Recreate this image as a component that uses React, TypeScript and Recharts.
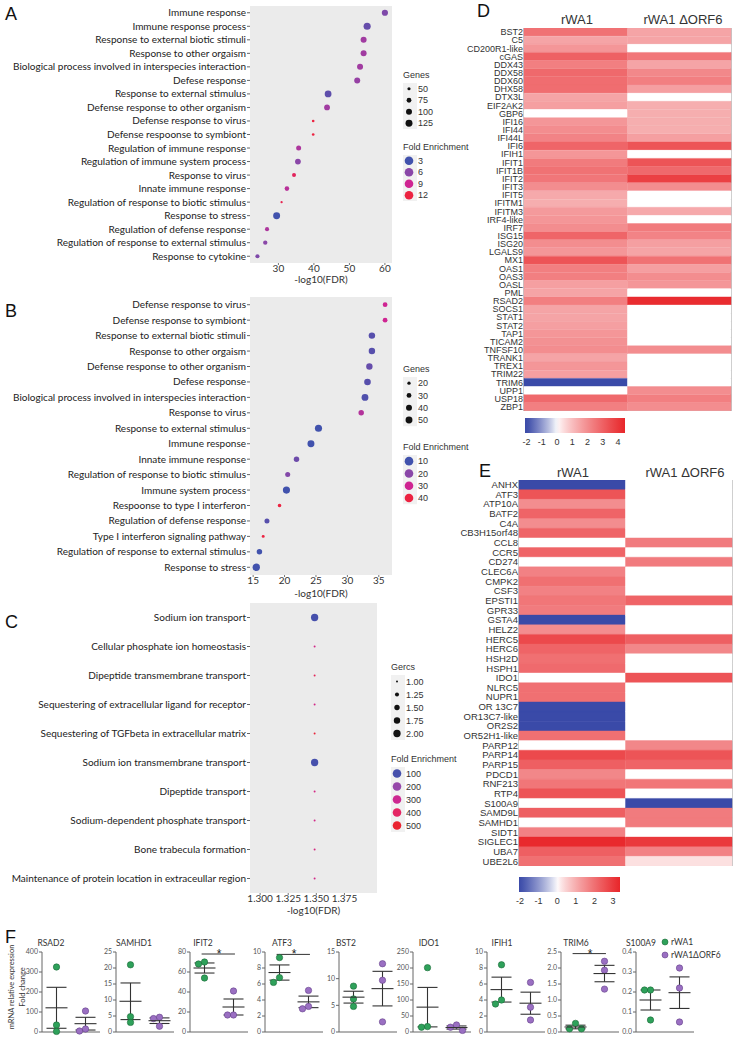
import React from 'react'
import {
  ScatterChart, Scatter, XAxis, YAxis, ZAxis, CartesianGrid, Cell,
  BarChart, Bar, ReferenceArea, ReferenceLine, ErrorBar, Label,
} from 'recharts'

// ---------- A: GO terms, rWA1 ----------
const termsA = [
  'Immune response', 'Immune response process', 'Response to external biotic stimuli',
  'Response to other orgaism', 'Biological process involved in interspecies interaction',
  'Defese response', 'Response to external stimulus', 'Defense response to other organism',
  'Defense response to virus', 'Defense respoonse to symbiont', 'Regulation of immune response',
  'Regulation of immune system process', 'Response to virus', 'Innate immune response',
  'Regulation of response to biotic stimulus', 'Response to stress', 'Regulation of defense response',
  'Regulation of response to external stimulus', 'Response to cytokine',
]
const fdrA = [60, 55, 54, 54, 53, 52.2, 44, 43.7, 39.8, 39.8, 35.7, 35.5, 34.4, 32.4, 30.9, 29.5, 26.8, 26.3, 24.1]
const genesA = [105, 130, 100, 100, 100, 100, 120, 95, 42, 42, 78, 95, 60, 70, 38, 125, 62, 65, 62]
const foldA = [5.5, 4.5, 7, 7, 7, 6.5, 4.2, 7, 12, 12, 7.5, 6, 11, 8, 11.5, 3, 7.5, 6, 5.5]
const genesKeyA = [50, 75, 100, 125]
const foldKeyA = [3, 6, 9, 12]

// ---------- B: GO terms, rWA1 ΔORF6 ----------
const termsB = [
  'Defense response to virus', 'Defense response to symbiont', 'Response to external biotic stimuli',
  'Response to other orgaism', 'Defense response to other organism', 'Defese response',
  'Biological process involved in interspecies interaction', 'Response to virus',
  'Response to external stimulus', 'Immune response', 'Innate immune response',
  'Regulation of response to biotic stimulus', 'Immune system process', 'Respoonse to type I interferon',
  'Regulation of defense response', 'Type I interferon signaling pathway',
  'Regulation of response to external stimulus', 'Response to stress',
]
const fdrB = [36, 36, 33.9, 33.9, 33.5, 33.2, 32.8, 32.2, 25.4, 24.2, 21.9, 20.5, 20.3, 19.2, 17.2, 16.6, 16, 15.5]
const genesB = [30, 30, 46, 46, 45, 48, 50, 36, 54, 52, 36, 32, 54, 22, 32, 18, 36, 56]
const foldB = [30, 30, 13, 13, 15, 13, 12, 26, 9, 9, 16, 19, 7, 40, 13, 40, 9, 6]
const genesKeyB = [20, 30, 40, 50]
const foldKeyB = [10, 20, 30, 40]

// ---------- C: GO terms, down ----------
const termsC = [
  'Sodium ion transport', 'Cellular phosphate ion homeostasis', 'Dipeptide transmembrane transport',
  'Sequestering of extracellular ligand for receptor', 'Sequestering of TGFbeta in extracellular matrix',
  'Sodium ion transmembrane transport', 'Dipeptide transport', 'Sodium-dependent phosphate transport',
  'Bone trabecula formation', 'Maintenance of protein location in extraceullar region',
]
const fdrC = [1.3485, 1.3485, 1.3485, 1.3485, 1.3485, 1.3485, 1.3485, 1.3485, 1.3485, 1.3485]
const genesC = [2, 1, 1, 1, 1, 2, 1, 1, 1, 1]
const foldC = [100, 320, 420, 320, 480, 100, 330, 320, 340, 320]
const genesKeyC = [1, 1.25, 1.5, 1.75, 2]
const foldKeyC = [100, 200, 300, 400, 500]

// ---------- D: ISG heatmap ----------
const genesD = [
  'BST2', 'C5', 'CD200R1-like', 'cGAS', 'DDX43', 'DDX58', 'DDX60', 'DHX58', 'DTX3L', 'EIF2AK2',
  'GBP6', 'IFI16', 'IFI44', 'IFI44L', 'IFI6', 'IFIH1', 'IFIT1', 'IFIT1B', 'IFIT2', 'IFIT3',
  'IFIT5', 'IFITM1', 'IFITM3', 'IRF4-like', 'IRF7', 'ISG15', 'ISG20', 'LGALS9', 'MX1', 'OAS1',
  'OAS3', 'OASL', 'PML', 'RSAD2', 'SOCS1', 'STAT1', 'STAT2', 'TAP1', 'TICAM2', 'TNFSF10',
  'TRANK1', 'TREX1', 'TRIM22', 'TRIM6', 'UPP1', 'USP18', 'ZBP1',
]
const rWA1D = [2.6, 1.5, 1.8, 3.0, 2.3, 2.8, 2.7, 2.7, 1.5, 1.6, 0, 1.8, 2.0, 2.2, 2.9, 1.8, 2.4, 2.6, 2.5, 2.0,
  1.4, 1.3, 1.7, 1.8, 2.0, 2.9, 2.0, 1.8, 3.3, 2.3, 2.3, 1.6, 1.5, 2.3, 1.5, 1.5, 1.6, 1.8, 1.9, 2.0,
  1.5, 1.8, 1.6, -2, 0, 2.8, 2.3]
const dORF6D = [1.5, 1.5, 0, 2.5, 1.5, 2.1, 2.3, 1.6, 0, 1.3, 1.3, 1.3, 1.3, 1.6, 3.3, 0, 3.3, 2.8, 3.8, 2.0,
  0, 0, 1.4, 0, 2.4, 2.2, 1.6, 1.5, 2.6, 1.6, 2.0, 1.8, 0, 4.3, 0, 0, 0, 0, 0, 2.0,
  0, 0, 0, 0, 2.0, 2.3, 2.0]
const scaleTicksD = [-2, -1, 0, 1, 2, 3, 4]

// ---------- E: other DEG heatmap ----------
const genesE = [
  'ANHX', 'ATF3', 'ATP10A', 'BATF2', 'C4A', 'CB3H15orf48', 'CCL8', 'CCR5', 'CD274', 'CLEC6A',
  'CMPK2', 'CSF3', 'EPSTI1', 'GPR33', 'GSTA4', 'HELZ2', 'HERC5', 'HERC6', 'HSH2D', 'HSPH1',
  'IDO1', 'NLRC5', 'NUPR1', 'OR 13C7', 'OR13C7-like', 'OR2S2', 'OR52H1-like', 'PARP12', 'PARP14', 'PARP15',
  'PDCD1', 'RNF213', 'RTP4', 'S100A9', 'SAMD9L', 'SAMHD1', 'SIDT1', 'SIGLEC1', 'UBA7', 'UBE2L6',
]
const rWA1E = [-2, 2.5, 1.5, 2.2, 1.5, 2.2, 0, 2.2, 0, 1.7, 2.0, 1.7, 1.9, 1.8, -2, 1.5, 2.7, 2.2, 2.0, 2.1,
  0, 2.0, 2.0, -2, -2, -2, 2.0, 0, 2.7, 2.3, 1.6, 1.9, 2.5, 0, 2.3, 0, 1.7, 3.3, 2.3, 2.0]
const dORF6E = [0, 0, 0, 0, 0, 0, 1.8, 0, 1.8, 0, 0, 0, 2.2, 0, 0, 0, 2.3, 1.6, 0, 0,
  2.5, 0, 0, 0, 0, 0, 0, 1.6, 2.5, 2.2, 0, 1.9, 0, -2, 1.8, 1.8, 0, 3.0, 1.7, 0.3]
const scaleTicksE = [-2, -1, 0, 1, 2, 3]

// ---------- F: qPCR ----------
const qpcrGenes = ['RSAD2', 'SAMHD1', 'IFIT2', 'ATF3', 'BST2', 'IDO1', 'IFIH1', 'TRIM6', 'S100A9']
const rWA1Fold = [[325, 35, 3], [21, 4.8, 3], [70, 68, 54], [9.3, 6.8, 6.2], [8.6, 6.2, 4.8],
  [201, 17, 15], [8.4, 4.0, 3.5], [0.1, 0.27, 0.1], [0.21, 0.21, 0.06]]
const dORF6Fold = [[105, 15, 5], [4.6, 4.2, 1.8], [41, 17, 17], [5.2, 2.9, 3.2], [12.8, 9.7, 1.9],
  [22, 15, 5], [6.2, 3.1, 1.5], [2.21, 1.93, 1.34], [0.32, 0.22, 0.05]]
const yMaxF = [400, 25, 80, 10, 15, 250, 10, 2.5, 0.4]
const yStepF = [100, 5, 20, 2, 5, 50, 2, 0.5, 0.1]
const sigF: (number | null)[] = [null, null, 78, 9.7, null, null, null, 2.45, null]

// layout of the small qPCR panels (title centres)
const titleXF = [51, 134, 203, 282, 346, 429, 502, 576, 641]

const GREEN = '#2ea15a'
const PURPLE = '#9a6fc2'
const LABEL_FONT = 'Lato, "Open Sans", sans-serif'
const ARIAL = '"Liberation Sans", Arial, sans-serif'

// colour helpers
function mix(a: number[], b: number[], t: number) {
  const k = Math.max(0, Math.min(1, t))
  return `rgb(${a.map((v, i) => Math.round(v + (b[i] - v) * k)).join(',')})`
}
const stops4 = [[65, 82, 173], [138, 71, 168], [207, 37, 146], [236, 35, 65]]
const stops5 = [[70, 80, 172], [150, 72, 170], [205, 40, 145], [228, 38, 100], [234, 36, 48]]
function foldColor(v: number, levels: number[], stops: number[][]) {
  if (v <= levels[0]) return mix(stops[0], stops[0], 0)
  for (let i = 0; i < levels.length - 1; i++) {
    if (v <= levels[i + 1]) return mix(stops[i], stops[i + 1], (v - levels[i]) / (levels[i + 1] - levels[i]))
  }
  return mix(stops[stops.length - 1], stops[stops.length - 1], 0)
}
const WHITE = [255, 255, 255]
function heatColor(v: number, vmax: number) {
  if (v < 0) return mix(WHITE, [58, 74, 168], Math.pow(-v / 2, 0.8))
  return mix(WHITE, [232, 36, 40], Math.pow(v / vmax, 0.8))
}
function keyRadius(v: number, dom: number[], rng: number[]) {
  const area = rng[0] + ((v - dom[0]) / (dom[1] - dom[0])) * (rng[1] - rng[0])
  return Math.sqrt(area / Math.PI)
}

const TermTick = (p: any) => (
  <text x={p.x} y={p.y} dy="0.35em" textAnchor="end" fontSize={10} fontFamily={LABEL_FONT} fill="#222">
    {p.payload.value}
  </text>
)

type DotProps = {
  terms: string[]; fdr: number[]; genes: number[]; fold: number[]
  levels: number[]; stops: number[][]
  left: number; top: number; width: number; plotH: number; axisH: number
  xDomain: number[]; xTicks: number[]; zDomain: number[]; zRange: number[]
  fmt?: (v: number) => string
}

function DotPlot(p: DotProps) {
  const rows = p.terms.map((t, i) => ({ term: t, fdr: p.fdr[i], genes: p.genes[i], fold: p.fold[i] }))
  return (
    <div style={{ position: 'absolute', left: p.left, top: p.top }}>
      <ScatterChart width={p.width} height={p.plotH + p.axisH + 4} margin={{ top: 0, right: 0, bottom: 4, left: 0 }}>
        <CartesianGrid fill="#ebebeb" stroke="none" horizontal={false} vertical={false} />
        <XAxis
          type="number" dataKey="fdr" domain={p.xDomain} ticks={p.xTicks}
          axisLine={false} tickSize={2} tickMargin={0} tickLine={{ stroke: '#777' }}
          tick={{ fontSize: 10, fill: '#333', fontFamily: LABEL_FONT }} height={p.axisH}
          tickFormatter={p.fmt}
        >
          <Label value="-log10(FDR)" position="insideBottom" offset={0}
            style={{ fontSize: 10, fill: '#333', fontFamily: LABEL_FONT }} />
        </XAxis>
        <YAxis
          type="category" dataKey="term" reversed width={250} interval={0} axisLine={false}
          tickSize={3} tickMargin={1} tickLine={{ stroke: '#666' }} tick={<TermTick />}
          allowDuplicatedCategory={false}
        />
        <ZAxis type="number" dataKey="genes" domain={p.zDomain} range={p.zRange} />
        <Scatter data={rows} isAnimationActive={false}>
          {rows.map((r, i) => <Cell key={i} fill={foldColor(r.fold, p.levels, p.stops)} />)}
        </Scatter>
      </ScatterChart>
    </div>
  )
}

type HeatProps = {
  genes: string[]; v1: number[]; v2: number[]; vmax: number
  left: number; top: number; width: number; height: number; labelW: number; fontSize: number
}

function Heatmap(p: HeatProps) {
  const rows = p.genes.map(g => ({ gene: g, c1: 1, c2: 1 }))
  const GeneTick = (t: any) => (
    <text x={t.x} y={t.y} dy="0.35em" textAnchor="end" fontSize={p.fontSize} fontFamily={ARIAL} fill="#333">
      {t.payload.value}
    </text>
  )
  return (
    <div style={{ position: 'absolute', left: p.left, top: p.top }}>
      <BarChart layout="vertical" width={p.width} height={p.height} data={rows} barCategoryGap={0}
        margin={{ top: 0, right: 1, bottom: 0, left: 0 }}>
        <XAxis type="number" domain={[0, 2]} hide />
        <YAxis type="category" dataKey="gene" width={p.labelW} interval={0} axisLine={false}
          tickLine={false} tickSize={0} tickMargin={1} tick={<GeneTick />} />
        <Bar dataKey="c1" stackId="s" isAnimationActive={false}>
          {rows.map((r, i) => {
            const c = heatColor(p.v1[i], p.vmax)
            return <Cell key={i} fill={c} stroke={c} strokeWidth={0.4} />
          })}
        </Bar>
        <Bar dataKey="c2" stackId="s" isAnimationActive={false}>
          {rows.map((r, i) => {
            const c = heatColor(p.v2[i], p.vmax)
            return <Cell key={i} fill={c} stroke={c} strokeWidth={0.4} />
          })}
        </Bar>
        <ReferenceArea x1={0} x2={2} fill="none" stroke="#8a8a8a" strokeWidth={1} ifOverflow="visible" />
      </BarChart>
    </div>
  )
}

// beeswarm-ish spread so equal values sit side by side
function swarm(vals: number[], x0: number, yMax: number) {
  const pxY = 80 / yMax, pxX = 29, d = 6
  const order = vals.map((_, i) => i).sort((a, b) => vals[b] - vals[a])
  const placed: { dx: number; py: number }[] = []
  const out: { x: number; y: number; z: number }[] = []
  for (const i of order) {
    const py = vals[i] * pxY
    for (const k of [0, -1, 1, -2, 2]) {
      const dx = k * d
      if (placed.every(q => Math.hypot(q.dx - dx, q.py - py) >= d - 0.5)) {
        placed.push({ dx, py })
        out.push({ x: x0 + dx / pxX, y: vals[i], z: 1 })
        break
      }
    }
  }
  return out
}

function summarise(vals: number[], x: number) {
  const n = vals.length
  const mean = vals.reduce((s, v) => s + v, 0) / n
  const sd = Math.sqrt(vals.reduce((s, v) => s + (v - mean) ** 2, 0) / (n - 1))
  return { x, y: mean, sem: sd / Math.sqrt(n), z: 1 }
}

const MeanLine = (p: any) => (
  <line x1={p.cx - 11} x2={p.cx + 11} y1={p.cy} y2={p.cy} stroke="#333" strokeWidth={1.1} />
)
const Star = (p: any) => (
  <text x={p.cx} y={p.cy + 4} textAnchor="middle" fontSize={12} fontFamily={ARIAL} fill="#222">*</text>
)

function QpcrPanel({ i }: { i: number }) {
  const yMax = yMaxF[i]
  const step = yStepF[i]
  const ticks: number[] = []
  for (let k = 0; k * step <= yMax + 1e-9; k++) ticks.push(+(k * step).toFixed(2))
  const dots1 = swarm(rWA1Fold[i], 1, yMax)
  const dots2 = swarm(dORF6Fold[i], 2, yMax)
  const summary = [summarise(rWA1Fold[i], 1), summarise(dORF6Fold[i], 2)]
  const sig = sigF[i]
  const axisX = 42 + i * 74.2
  return (
    <div style={{ position: 'absolute', left: axisX - 24, top: 945 }}>
      <ScatterChart width={84} height={92} margin={{ top: 7, right: 2, bottom: 0, left: 0 }}>
        <XAxis type="number" dataKey="x" domain={[0.5, 2.5]} ticks={[1, 2]} tick={false} tickSize={4}
          height={5} axisLine={{ stroke: '#666' }} tickLine={{ stroke: '#666' }} />
        <YAxis type="number" dataKey="y" domain={[0, yMax]} ticks={ticks} interval={0} width={24}
          tickSize={3} tickMargin={1} axisLine={{ stroke: '#666' }} tickLine={{ stroke: '#666' }}
          tick={{ fontSize: 7, fill: '#555', fontFamily: LABEL_FONT }}
          tickFormatter={(v: number) => (step < 1 ? v.toFixed(1) : String(v))} />
        <ZAxis type="number" dataKey="z" domain={[0, 2]} range={[32, 32]} />
        {sig != null && (
          <ReferenceLine segment={[{ x: 0.9, y: sig }, { x: 2.05, y: sig }]} stroke="#333" ifOverflow="visible" />
        )}
        <Scatter data={dots1} fill={GREEN} stroke="#1c6a39" strokeWidth={0.6} isAnimationActive={false} />
        <Scatter data={dots2} fill={PURPLE} stroke="#65428a" strokeWidth={0.6} isAnimationActive={false} />
        <Scatter data={summary} shape={MeanLine} isAnimationActive={false}>
          <ErrorBar dataKey="sem" width={10} stroke="#333" strokeWidth={1.1} direction="y" />
        </Scatter>
        {sig != null && <Scatter data={[{ x: 1.5, y: sig, z: 1 }]} shape={Star} isAnimationActive={false} />}
      </ScatterChart>
    </div>
  )
}

function LegendBlock({ x, y, title, values, radius, colors, rowH, fmt }: {
  x: number; y: number; title: string; values: number[]; radius: (v: number) => number
  colors?: string[]; rowH: number; fmt: (v: number) => string
}) {
  return (
    <g>
      <text x={x} y={y} fontSize={9} fontFamily={ARIAL} fill="#333">{title}</text>
      <rect x={x} y={y + 5} width={14} height={values.length * rowH} fill="#f1f1f1" />
      {values.map((v, i) => (
        <g key={v}>
          <circle cx={x + 6} cy={y + 5 + rowH * (i + 0.5)} r={radius(v)} fill={colors ? colors[i] : '#111'} />
          <text x={x + 15} y={y + 5 + rowH * (i + 0.5)} dy="0.35em" fontSize={9} fontFamily={ARIAL} fill="#333">
            {fmt(v)}
          </text>
        </g>
      ))}
    </g>
  )
}

function ColorBar({ id, x, y, w, lo, hi, vmax, ticks }: {
  id: string; x: number; y: number; w: number; lo: number; hi: number; vmax: number; ticks: number[]
}) {
  const n = 26
  const pos = (v: number) => x + ((v - lo) / (hi - lo)) * w
  return (
    <g>
      <defs>
        <linearGradient id={id} x1="0" x2="1" y1="0" y2="0">
          {Array.from({ length: n + 1 }, (_, k) => {
            const v = lo + ((hi - lo) * k) / n
            return <stop key={k} offset={k / n} stopColor={heatColor(Math.min(v, vmax), vmax)} />
          })}
        </linearGradient>
      </defs>
      <rect x={x} y={y} width={w} height={15} fill={`url(#${id})`} />
      {ticks.map(t => (
        <text key={t} x={pos(t)} y={y + 27} textAnchor="middle" fontSize={9} fontFamily={ARIAL} fill="#333">{t}</text>
      ))}
    </g>
  )
}

function Overlay() {
  const rA = (v: number) => keyRadius(v, [40, 130], [4, 40])
  const rB = (v: number) => keyRadius(v, [15, 55], [4, 42])
  const rC = (v: number) => keyRadius(v, [1, 2], [3, 42])
  const letter = { fontSize: 18, fontFamily: ARIAL, fill: '#111' }
  const head = { fontSize: 13, fontFamily: ARIAL, fill: '#333', textAnchor: 'middle' as const }
  return (
    <svg width={735} height={1037} style={{ position: 'absolute', left: 0, top: 0, pointerEvents: 'none' }}>
      <text x={5} y={20} {...letter}>A</text>
      <text x={5} y={317} {...letter}>B</text>
      <text x={5} y={628} {...letter}>C</text>
      <text x={477} y={17} {...letter}>D</text>
      <text x={479} y={477} {...letter}>E</text>
      <text x={5} y={943} {...letter}>F</text>

      <LegendBlock x={403} y={78} title="Genes" values={genesKeyA} radius={rA} rowH={11.5} fmt={String} />
      <LegendBlock x={403} y={150} title="Fold Enrichment" values={foldKeyA} radius={() => 4.3}
        colors={foldKeyA.map(v => foldColor(v, foldKeyA, stops4))} rowH={11.5} fmt={String} />
      <LegendBlock x={403} y={372} title="Genes" values={genesKeyB} radius={rB} rowH={12.3} fmt={String} />
      <LegendBlock x={403} y={450} title="Fold Enrichment" values={foldKeyB} radius={() => 4.3}
        colors={foldKeyB.map(v => foldColor(v, foldKeyB, stops4))} rowH={12.3} fmt={String} />
      <LegendBlock x={391} y={670} title="Gercs" values={genesKeyC} radius={rC} rowH={13}
        fmt={(v: number) => v.toFixed(2)} />
      <LegendBlock x={391} y={762} title="Fold Enrichment" values={foldKeyC} radius={() => 4.3}
        colors={foldKeyC.map(v => foldColor(v, foldKeyC, stops5))} rowH={13} fmt={String} />

      <text x={577} y={24} {...head}>rWA1</text>
      <text x={683} y={24} {...head}>rWA1 ΔORF6</text>
      <text x={573} y={477} {...head}>rWA1</text>
      <text x={685} y={477} {...head}>rWA1 ΔORF6</text>

      <ColorBar id="cbD" x={525} y={418} w={100} lo={-2.1} hi={4.45} vmax={4.5} ticks={scaleTicksD} />
      <ColorBar id="cbE" x={519} y={877} w={101} lo={-2.05} hi={3.37} vmax={3.4} ticks={scaleTicksE} />

      {qpcrGenes.map((g, i) => (
        <text key={g} x={titleXF[i]} y={946} textAnchor="middle" fontSize={8.5}
          fontFamily={LABEL_FONT} fill="#333">{g}</text>
      ))}
      <g transform="translate(14,987) rotate(-90)">
        <text textAnchor="middle" fontSize={7.5} fontFamily={LABEL_FONT} fill="#333">mRNA relative expression</text>
      </g>
      <g transform="translate(25,987) rotate(-90)">
        <text textAnchor="middle" fontSize={7.5} fontFamily={LABEL_FONT} fill="#333">Fold change</text>
      </g>
      <circle cx={665} cy={942} r={3} fill={GREEN} stroke="#1c6a39" strokeWidth={0.6} />
      <text x={671} y={942} dy="0.35em" fontSize={8.5} fontFamily={LABEL_FONT} fill="#333">rWA1</text>
      <circle cx={665} cy={955} r={3} fill={PURPLE} stroke="#65428a" strokeWidth={0.6} />
      <text x={671} y={955} dy="0.35em" fontSize={8.5} fontFamily={LABEL_FONT} fill="#333">rWA1ΔORF6</text>
    </svg>
  )
}

export default function App() {
  return (
    <div style={{ position: 'absolute', left: 0, top: 0, width: 735, height: 1037, background: '#fff', overflow: 'hidden' }}>
      <DotPlot terms={termsA} fdr={fdrA} genes={genesA} fold={foldA} levels={foldKeyA} stops={stops4}
        left={0} top={6} width={392} plotH={257} axisH={20}
        xDomain={[22, 62]} xTicks={[30, 40, 50, 60]} zDomain={[40, 130]} zRange={[4, 40]} />
      <DotPlot terms={termsB} fdr={fdrB} genes={genesB} fold={foldB} levels={foldKeyB} stops={stops4}
        left={0} top={297} width={392} plotH={278} axisH={22}
        xDomain={[14.5, 37.1]} xTicks={[15, 20, 25, 30, 35]} zDomain={[15, 55]} zRange={[4, 42]} />
      <DotPlot terms={termsC} fdr={fdrC} genes={genesC} fold={foldC} levels={foldKeyC} stops={stops5}
        left={0} top={603} width={377} plotH={290} axisH={21}
        xDomain={[1.291, 1.404]} xTicks={[1.3, 1.325, 1.35, 1.375]} zDomain={[1, 2]} zRange={[3, 42]}
        fmt={(v: number) => v.toFixed(3)} />
      <Heatmap genes={genesD} v1={rWA1D} v2={dORF6D} vmax={4.5}
        left={460} top={28} width={272} height={383} labelW={64} fontSize={9} />
      <Heatmap genes={genesE} v1={rWA1E} v2={dORF6E} vmax={3.4}
        left={455} top={480} width={278} height={386} labelW={64} fontSize={9.5} />
      {qpcrGenes.map((g, i) => <QpcrPanel key={g} i={i} />)}
      <Overlay />
    </div>
  )
}
